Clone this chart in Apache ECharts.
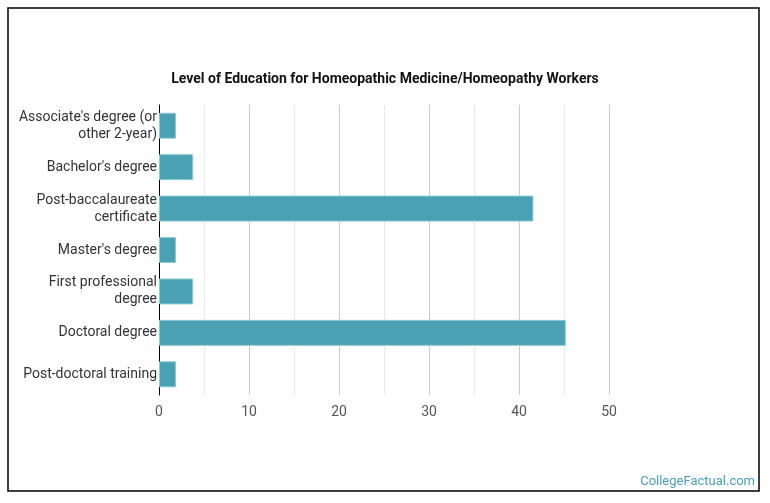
<!DOCTYPE html>
<html>
<head>
<meta charset="utf-8">
<script src="https://cdn.jsdelivr.net/npm/echarts@6/dist/echarts.min.js"></script>
<style>
  html, body { margin: 0; padding: 0; background: #fff; }
  #chart { width: 770px; height: 503px; }
</style>
</head>
<body>
<div id="chart"></div>
<script>
// categories, top to bottom
var categories = [
  "Associate's degree (or\nother 2-year)",
  "Bachelor's degree",
  "Post-baccalaureate\ncertificate",
  "Master's degree",
  "First professional\ndegree",
  "Doctoral degree",
  "Post-doctoral training"
];
// percent of workers
var values = [1.9, 3.8, 41.6, 1.9, 3.8, 45.2, 1.9];
var xTicks = [0, 10, 20, 30, 40, 50];

var myChart = echarts.init(document.getElementById('chart'));

var option = {
  animation: false,
  title: {
    text: 'Level of Education for Homeopathic Medicine/Homeopathy Workers',
    left: 'center',
    top: 67,
    textStyle: { fontFamily: 'Roboto', fontSize: 14, fontWeight: 'bold', color: '#111' }
  },
  grid: { left: 159, right: 161, top: 105, bottom: 108 },
  xAxis: {
    type: 'value',
    min: xTicks[0],
    max: xTicks[xTicks.length - 1],
    interval: 10,
    axisLine: { show: false },
    axisTick: { show: false },
    axisLabel: { fontFamily: 'Roboto', fontSize: 14, color: '#555', margin: 10 },
    splitLine: { lineStyle: { color: '#cccccc', width: 1 } },
    minorTick: { show: false, splitNumber: 2 },
    minorSplitLine: { show: true, lineStyle: { color: '#e8e8e8', width: 1 } }
  },
  yAxis: {
    type: 'category',
    inverse: true,
    data: categories,
    axisLine: { lineStyle: { color: '#000', width: 1 } },
    axisTick: { show: false },
    axisLabel: { fontFamily: 'Roboto', fontSize: 14, color: '#333', lineHeight: 17, margin: 2, padding: [3, 0, 0, 0] }
  },
  series: [{
    type: 'bar',
    data: values,
    barWidth: 26,
    itemStyle: { color: '#4aa1b3', borderColor: '#8fcbd6', borderWidth: 1 }
  }],
  graphic: [
    {
      type: 'rect',
      shape: { x: 8, y: 8, width: 751, height: 483 },
      style: { fill: 'none', stroke: '#000', lineWidth: 1.5 },
      z: 100
    },
    {
      type: 'text',
      right: 15,
      bottom: 15,
      style: { text: 'CollegeFactual.com', fontFamily: 'Roboto', fontSize: 13, fill: '#4a9fb5' }
    }
  ]
};

myChart.setOption(option);
</script>
</body>
</html>
